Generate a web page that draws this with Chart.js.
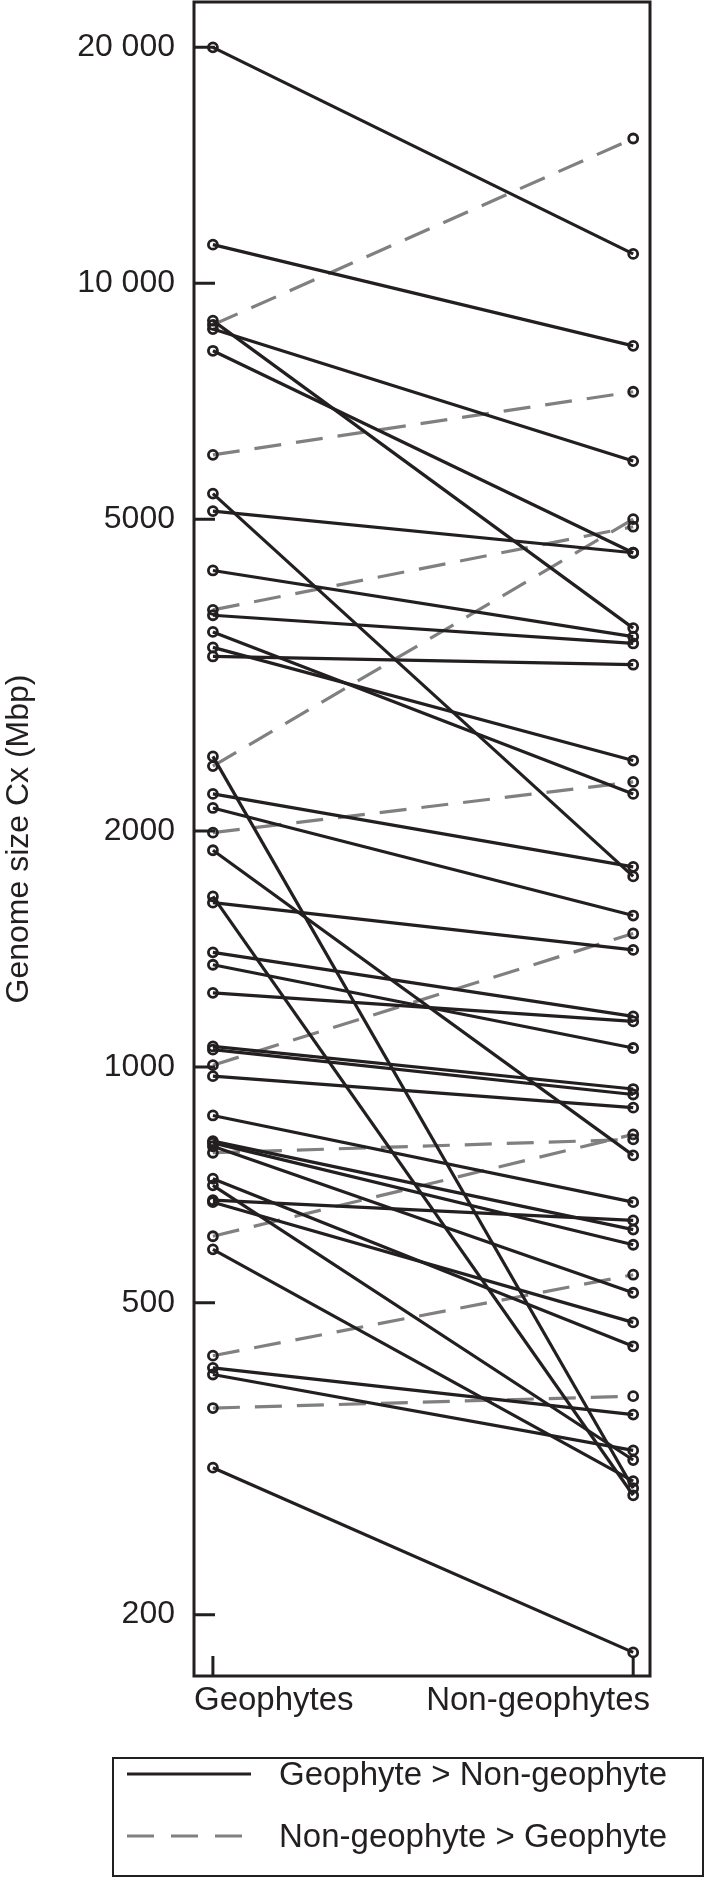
<!DOCTYPE html>
<html>
<head>
  <meta charset="UTF-8" />
  <title>Genome size: geophytes vs non-geophytes</title>
  <style>
    body {
      margin: 0;
      background-color: white;
      overflow: hidden;
    }
    #wrap {
      position: relative;
      width: 706px;
      height: 1879px;
    }
    #chart {
      position: absolute;
      left: 0;
      top: 0;
    }
    #legend {
      position: absolute;
      left: 112px;
      top: 1757px;
      width: 592px;
      height: 120px;
      box-sizing: border-box;
      border: 2px solid #231f20;
    }
    .legend-text {
      position: absolute;
      left: 279px;
      font-family: "Liberation Sans", Arial, sans-serif;
      font-size: 33px;
      line-height: 33px;
      color: #231f20;
      white-space: nowrap;
    }
  </style>
  <script src="https://cdn.jsdelivr.net/npm/chart.js"></script>
</head>
<body>

<div id="wrap">
  <canvas id="chart" width="706" height="1879"></canvas>
  <div id="legend"></div>
  <svg style="position:absolute;left:0;top:0" width="706" height="1879">
    <line x1="127" y1="1774" x2="251" y2="1774" stroke="#231f20" stroke-width="3.2" />
    <line x1="127" y1="1836" x2="251" y2="1836" stroke="#808080" stroke-width="3.2" stroke-dasharray="27 17" />
  </svg>
  <div class="legend-text" id="leg1" style="top:1757px"></div>
  <div class="legend-text" id="leg2" style="top:1819px"></div>
</div>

<script>
// categories on the x axis
const categories = ["Geophytes", "Non-geophytes"];

// genome size Cx (Mbp) of each pair
const geophyte = [
  20000, 11200, 8960, 8850, 8740, 8200, 6040, 5390, 5120, 4300,
  3830, 3770, 3590, 3430, 3340, 2490, 2420, 2230, 2140, 1990,
  1890, 1650, 1620, 1400, 1350, 1243, 1062, 1052, 1005, 973,
  867, 804, 800, 792, 777, 720, 706, 676, 672, 608,
  585, 428, 413, 405, 367, 308
];
const nonGeophyte = [
  10900, 8320, 3630, 15300, 5930, 4530, 7270, 1750, 4530, 3540,
  4890, 3470, 2230, 2460, 3260, 290, 5000, 1800, 1560, 2310,
  771, 284, 1410, 1160, 1057, 1143, 937, 922, 1480, 887,
  672, 620, 593, 515, 808, 440, 315, 637, 472, 820,
  296, 543, 360, 324, 380, 179
];

// y axis ticks
const yTickValues = [200, 500, 1000, 2000, 5000, 10000, 20000];
const yTickLabels = ["200", "500", "1000", "2000", "5000", "10 000", "20 000"];

const legendLabels = ["Geophyte > Non-geophyte", "Non-geophyte > Geophyte"];

const ink = "#231f20";
const grey = "#808080";
const font = "'Liberation Sans', Arial, sans-serif";

document.getElementById("leg1").textContent = legendLabels[0];
document.getElementById("leg2").textContent = legendLabels[1];

// one line per pair, solid when the geophyte is larger
const datasets = geophyte.map((g, i) => {
  const down = g > nonGeophyte[i];
  return {
    label: down ? legendLabels[0] : legendLabels[1],
    data: [{ x: 0, y: g }, { x: 1, y: nonGeophyte[i] }],
    borderColor: down ? ink : grey,
    borderWidth: 3.2,
    borderDash: down ? [] : [27, 15],
    pointRadius: 4.5,
    pointBorderWidth: 2.8,
    pointBorderColor: ink,
    pointBackgroundColor: "rgba(0,0,0,0)",
    order: down ? 0 : 1
  };
});

// frame and inward tick marks
const frame = {
  id: "frame",
  afterDatasetsDraw(chart) {
    const { ctx, chartArea: a, scales } = chart;
    ctx.save();
    ctx.strokeStyle = ink;
    ctx.lineWidth = 3;
    ctx.strokeRect(a.left, a.top, a.right - a.left, a.bottom - a.top);
    ctx.beginPath();
    yTickValues.forEach(v => {
      const y = scales.y.getPixelForValue(v);
      ctx.moveTo(a.left, y);
      ctx.lineTo(a.left + 21, y);
    });
    [0, 1].forEach(v => {
      const x = scales.x.getPixelForValue(v);
      ctx.moveTo(x, a.bottom);
      ctx.lineTo(x, a.bottom - 20);
    });
    ctx.stroke();
    ctx.restore();
  }
};

new Chart(document.getElementById("chart").getContext("2d"), {
  type: "line",
  data: { datasets: datasets },
  options: {
    responsive: false,
    animation: false,
    devicePixelRatio: 1,
    events: [],
    layout: { autoPadding: false, padding: { top: 2, right: 56, bottom: 0, left: 0 } },
    plugins: {
      legend: { display: false },
      tooltip: { enabled: false }
    },
    scales: {
      x: {
        type: "linear",
        min: -0.045,
        max: 1.04,
        display: false
      },
      x2: {
        type: "linear",
        axis: "x",
        position: "bottom",
        min: 0,
        max: 1,
        grid: { display: false, drawTicks: false },
        border: { display: false },
        afterBuildTicks: s => { s.ticks = categories.map((c, i) => ({ value: i })); },
        afterFit: s => { s.height = 203; s.paddingLeft = 0; s.paddingRight = 0; },
        ticks: {
          align: "inner",
          padding: 5,
          color: ink,
          font: { family: font, size: 33 },
          callback: (v, i) => categories[i]
        }
      },
      y: {
        type: "logarithmic",
        min: 167,
        max: 22850,
        grid: { display: false, drawTicks: false },
        border: { display: false },
        afterBuildTicks: s => { s.ticks = yTickValues.map(v => ({ value: v })); },
        afterFit: s => { s.width = 194; s.paddingTop = 0; s.paddingBottom = 0; },
        ticks: {
          padding: 19,
          color: ink,
          font: { family: font, size: 32 },
          callback: (v, i) => yTickLabels[i]
        },
        title: {
          display: true,
          text: "Genome size Cx (Mbp)",
          color: ink,
          padding: 0,
          font: { family: font, size: 32 }
        }
      }
    }
  },
  plugins: [frame]
});
</script>

</body>
</html>
